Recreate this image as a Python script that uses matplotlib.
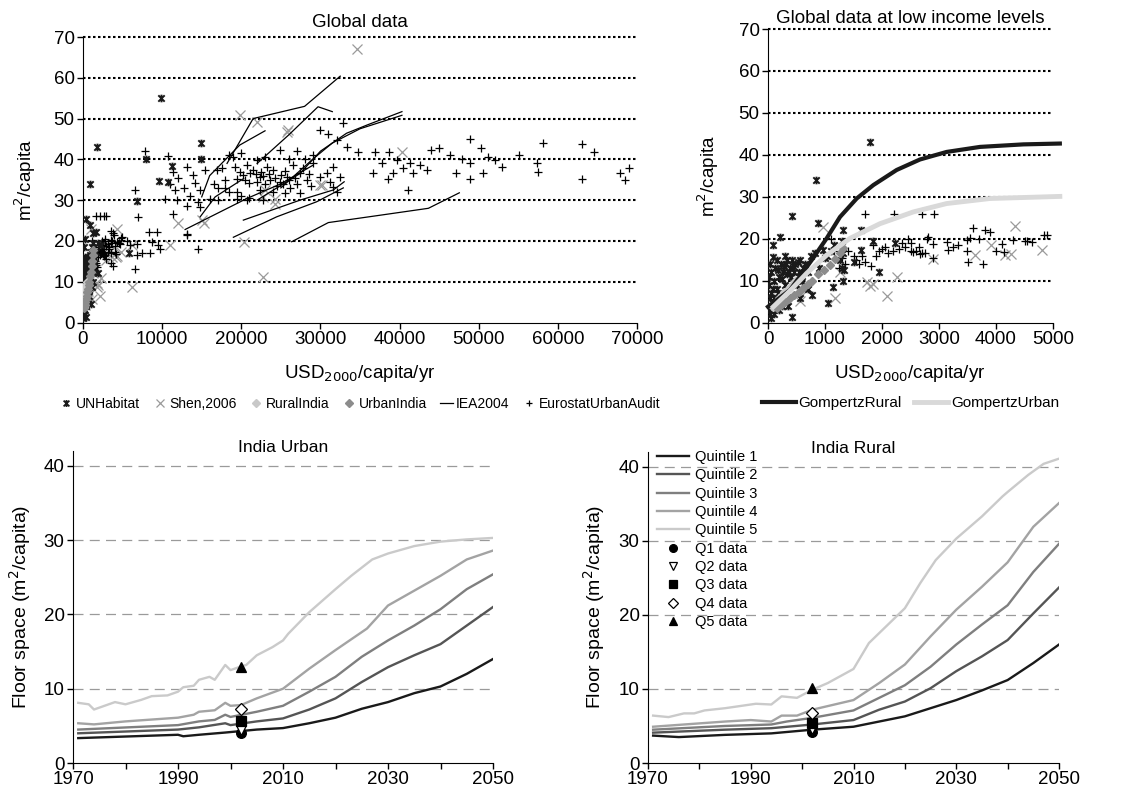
import matplotlib
matplotlib.use('Agg')
import matplotlib.pyplot as plt
from matplotlib.path import Path
from matplotlib.lines import Line2D
import numpy as np

plt.rcParams['font.family'] = ['Liberation Sans', 'DejaVu Sans']

# ---------------- data: global floor space vs income ----------------
unhabitat = [
    (842, 34), (1790, 43), (9860, 55), (7920, 40), (14900, 43.9), (14900, 40),
    (9640, 34.8), (10780, 34.5), (11280, 38.4), (6860, 29.8), (5810, 17),
    (415, 25.4), (210, 20.5), (94, 18.5), (94, 15.6), (883, 23.8), (1626, 22.2),
    (1310, 22), (415, 1.4), (53, 1.1), (1146, 8.6), (1058, 4.6), (766, 6.6),
    (561, 5.8), (1952, 12.1), (1310, 10), (970, 17.3), (1000, 15.4), (1160, 18.5),
    (2228, 18.9), (1848, 19.4), (1625, 17.3), (1263, 14.9), (1300, 13), (1040, 16),
    (1100, 17), (1290, 19.5), (1310, 16.5), (1330, 12.5), (1500, 14.5),
    (50, 12), (100, 10), (120, 13), (150, 8), (200, 11), (220, 14), (260, 12),
    (300, 9), (320, 14), (340, 15), (380, 13), (400, 11), (420, 15), (450, 12),
    (480, 14), (500, 9), (550, 12), (600, 10), (650, 14), (700, 8), (30, 6),
    (60, 4), (80, 8), (130, 5), (180, 7), (250, 6), (350, 4), (80, 3), (20, 9),
    (40, 14), (150, 15), (300, 16), (560, 15), (700, 12), (200, 3), (110, 2),
    (10, 11), (10, 3), (170, 12.5), (240, 10.5), (280, 13.5), (330, 11.5),
    (360, 12), (440, 13.5), (520, 14.5), (620, 13), (750, 16), (830, 16.5),
    (900, 13), (60, 7), (100, 6), (240, 4), (40, 2),
]

shen2006 = [
    (34580, 67), (19840, 50.9), (21950, 49.2), (25950, 47.2), (30160, 33.7),
    (24260, 29), (23000, 32.5), (40260, 41.9), (12050, 24.5), (15290, 24.5),
    (15000, 25.2), (10990, 19), (20380, 19.8), (22780, 11.2), (6150, 8.6),
    (6150, 19), (22790, 30.8), (24270, 30.4), (29960, 33.7), (25820, 46.8),
    (958, 22.9), (4330, 23), (4800, 17.3), (4160, 16.1), (3920, 18.5), (3630, 16.1),
    (2895, 15.3), (4260, 16.3), (1730, 9.8), (1790, 8.7), (1850, 9.2), (2093, 6.4),
    (2257, 11), (1175, 5.8), (1263, 12.1), (680, 7.7), (210, 4.2), (561, 5.2),
]

rural_india_x = [80, 120, 160, 200, 240, 280, 330, 380, 430, 480]
rural_india_y = [3.8, 4.5, 5.2, 5.8, 6.5, 7.2, 7.9, 8.6, 9.3, 10.0]
urban_india_x = [150, 220, 300, 380, 460, 540, 620, 700, 780, 880, 980, 1080, 1180, 1260, 1320]
urban_india_y = [3.5, 4.3, 5.0, 5.8, 6.6, 7.4, 8.3, 9.2, 10.0, 11.5, 12.5, 13.8, 15.2, 16.6, 17.7]

iea2004 = [
    [(15000, 30.8), (16000, 36), (19800, 43.5), (23000, 47)],
    [(18200, 39), (21500, 50), (28000, 53), (32500, 60.4)],
    [(22000, 39), (26000, 46), (29700, 52.9), (31500, 51.7)],
    [(22000, 30), (27400, 36.5), (30000, 42), (33300, 46.4), (36000, 48.5), (40300, 51.7)],
    [(25000, 33), (29000, 40), (31500, 44), (35000, 47.5), (40300, 50.8)],
    [(12900, 22.8), (20700, 30.4), (25000, 34), (29000, 38.5)],
    [(14800, 25.9), (16700, 30.8), (20300, 35.3)],
    [(20260, 25.1), (27420, 30), (31630, 32.5), (33000, 34.5)],
    [(19000, 20.9), (24460, 25.9), (29520, 29.6), (32890, 33)],
    [(26370, 19.8), (31000, 24.5), (37530, 26.3), (43640, 28), (47550, 31.8)],
]

eurostat = [
    (36900, 41.9), (38720, 41.9), (37750, 39), (36620, 36.7), (38590, 35.3), (39220, 36.7),
    (39640, 39.8), (40490, 37.8), (41330, 39), (41670, 36.7), (42600, 38.6), (43520, 37.5),
    (41120, 32.5), (43950, 42.4), (45040, 42.8), (46390, 41), (47150, 36.7), (47870, 40.2),
    (48920, 45.1), (48920, 39), (48920, 35.3), (50270, 42.9), (50600, 36.7), (51230, 40.5),
    (52080, 39.8), (52920, 38.2), (55150, 41), (57340, 39), (57550, 37), (58100, 43.9),
    (63030, 43.7), (64590, 41.7), (63030, 35.1), (67790, 36.7), (68930, 37.9), (68510, 34.9),
    (32900, 48.8), (29960, 47.2), (32070, 44.7), (33330, 43.1), (34800, 41.9), (31640, 38.2),
    (32490, 35.7), (31640, 33.3), (32070, 32), (27430, 31.8), (31000, 46.2), (29110, 41),
    (15420, 37.5), (16980, 37.4), (17100, 32.9), (17950, 32.9), (16050, 30.4), (17100, 30),
    (19000, 40.6), (19210, 38.2), (19420, 35.3), (19420, 30.4), (20690, 38.6), (20690, 30),
    (21110, 36.6), (21950, 39.8), (22370, 35.7), (22370, 32.5), (23220, 38.2), (23640, 34.9),
    (24900, 34.5), (25750, 35.7), (26590, 38.6), (27430, 36.6), (28270, 34.9), (29110, 39),
    (29960, 35.7), (30800, 36.6), (31220, 34.5), (24900, 42.3),
    (19800, 37), (20200, 36.2), (20500, 35), (21000, 34.2), (21500, 37.5), (21800, 36.5),
    (22000, 34.5), (22500, 37), (22800, 36), (23000, 34), (23500, 36.5), (24000, 37.5),
    (24200, 35.5), (24500, 33.5), (25000, 36.2), (25300, 34), (25500, 37.2), (26000, 35),
    (26200, 33), (26800, 35.5), (27000, 34), (27800, 37.8), (28500, 36.5), (28800, 33.5),
    (19500, 32), (20000, 31), (21000, 30.5), (18500, 41), (20000, 41.5), (23000, 40.5),
    (26000, 40), (27000, 42), (28000, 40.2), (17500, 38), (18000, 35), (22800, 30),
    (25500, 31.8), (24000, 32), (18500, 32), (16500, 34),
    (7840, 42.1), (10790, 40.8), (11330, 37), (13100, 38.2), (13940, 36.2), (14160, 34.1),
    (11630, 32.5), (11840, 30), (10360, 30.2), (13100, 28.5), (14790, 32.5), (11410, 26.6),
    (13100, 21.4), (9390, 22.3), (6570, 32.6), (7000, 25.9), (6570, 13), (9730, 17.9),
    (14570, 17.9), (8470, 17), (4890, 21), (6770, 16.5), (6770, 19.3), (12000, 35.5),
    (12700, 33), (13500, 31), (14500, 29.5), (8400, 22.3), (8680, 19.8), (13180, 21.7),
    (14790, 28.4), (11000, 34), (9500, 19), (7500, 17), (5500, 20), (6000, 19), (4500, 19.5),
    (1700, 26), (2210, 26), (2695, 26), (2912, 26), (3590, 22.5), (3806, 22), (3900, 21.5),
    (4100, 18.7), (4140, 16.9), (4300, 19.8), (4625, 19.2), (4840, 20.8), (3485, 19.6),
    (3515, 14.5), (3765, 13.9), (3495, 17.1), (3160, 17.3), (3250, 18), (3330, 18.6),
    (3134, 19.2), (2900, 18.8), (2783, 20), (2666, 16.4), (2100, 16.5), (2200, 17),
    (2300, 17.5), (2400, 18), (2500, 19), (2500, 17), (2550, 16.9), (2600, 17.2),
    (2650, 18), (2700, 16.5), (2750, 16.5), (2450, 20), (2350, 19), (1700, 14.5),
    (1800, 13.5), (1900, 16), (1950, 17), (1600, 14), (1550, 15), (1500, 16), (1400, 17),
    (1350, 14), (1300, 15.5), (1250, 13), (1150, 17), (1100, 20), (1650, 16), (2000, 17.5),
    (2050, 18), (1850, 18.5), (2800, 20.5), (2900, 15.5), (3700, 20), (3550, 20.2),
    (4000, 17.2), (4550, 19.5),
]

gompertz_rural_x = [0, 386, 766, 1029, 1263, 1556, 1848, 2257, 2666, 3134, 3720, 4480, 5120]
gompertz_rural_y = [3.8, 7.8, 14.9, 20.1, 25.2, 29.6, 32.8, 36.4, 38.9, 40.7, 41.9, 42.5, 42.7]
gompertz_urban_x = [94, 386, 680, 1029, 1438, 1965, 2549, 3134, 3895, 5120]
gompertz_urban_y = [3.8, 7.6, 11.8, 16.1, 20.1, 23.6, 26.4, 28.4, 29.6, 30.1]

# ---------------- data: India quintile projections ----------------
urban_years = {
    'q5': [1971, 1973, 1974, 1976, 1978, 1980, 1983, 1985, 1988, 1990, 1991, 1993, 1994,
           1996, 1997, 1999, 2000, 2002, 2003, 2005, 2008, 2010, 2011, 2015, 2020, 2023,
           2027, 2030, 2035, 2040, 2045, 2050],
    'q4': [1971, 1974, 1980, 1986, 1990, 1993, 1994, 1997, 1999, 2000, 2002, 2005, 2010,
           2015, 2020, 2026, 2030, 2035, 2040, 2045, 2050],
    'q3': [1971, 1990, 1994, 1997, 1999, 2000, 2005, 2010, 2015, 2020, 2025, 2030, 2035,
           2040, 2045, 2050],
    'q2': [1971, 1990, 1994, 1999, 2000, 2005, 2010, 2015, 2020, 2025, 2030, 2035, 2040,
           2045, 2050],
    'q1': [1971, 1990, 1991, 1994, 1999, 2005, 2010, 2015, 2020, 2025, 2030, 2035, 2040,
           2045, 2050],
}
urban_vals = {
    'q5': [8.1, 7.9, 7.2, 7.7, 8.2, 7.9, 8.5, 9.0, 9.1, 9.6, 10.2, 10.4, 11.2, 11.6, 11.2,
           13.2, 12.5, 13.0, 13.2, 14.5, 15.6, 16.5, 17.4, 20.3, 23.4, 25.2, 27.4, 28.2,
           29.2, 29.8, 30.1, 30.3],
    'q4': [5.35, 5.2, 5.6, 5.9, 6.1, 6.5, 6.9, 7.1, 8.1, 7.7, 7.8, 8.7, 10.0, 12.7, 15.2,
           18.1, 21.2, 23.2, 25.2, 27.4, 28.6],
    'q3': [4.5, 5.1, 5.6, 5.8, 6.5, 6.2, 6.9, 7.7, 9.6, 11.6, 14.3, 16.5, 18.5, 20.7, 23.4, 25.4],
    'q2': [4.0, 4.5, 4.8, 5.35, 5.1, 5.6, 6.0, 7.2, 8.7, 10.9, 12.9, 14.5, 16.0, 18.5, 21.0],
    'q1': [3.35, 3.8, 3.6, 3.8, 4.1, 4.5, 4.7, 5.35, 6.1, 7.3, 8.2, 9.4, 10.3, 12.0, 14.0],
}
rural_years = {
    'q5': [1971, 1974, 1977, 1979, 1981, 1985, 1990, 1991, 1994, 1996, 1999, 2002, 2005,
           2010, 2013, 2020, 2023, 2026, 2030, 2035, 2039, 2040, 2044, 2047, 2050],
    'q4': [1971, 1985, 1990, 1994, 1996, 1999, 2002, 2010, 2015, 2020, 2025, 2030, 2035,
           2040, 2045, 2050],
    'q3': [1971, 1985, 1994, 1997, 2002, 2010, 2015, 2020, 2025, 2030, 2035, 2040, 2045, 2050],
    'q2': [1971, 1985, 1994, 2002, 2010, 2015, 2020, 2025, 2030, 2035, 2040, 2045, 2050],
    'q1': [1971, 1976, 1985, 1994, 2002, 2010, 2015, 2020, 2025, 2030, 2035, 2040, 2045, 2050],
}
rural_vals = {
    'q5': [6.4, 6.2, 6.7, 6.7, 7.1, 7.4, 7.9, 8.0, 7.9, 9.0, 8.8, 9.9, 10.8, 12.7, 16.2,
           20.9, 24.3, 27.4, 30.3, 33.3, 36.0, 36.6, 38.9, 40.4, 41.1],
    'q4': [4.9, 5.6, 5.8, 5.6, 6.4, 6.4, 7.2, 8.5, 10.8, 13.3, 17.1, 20.7, 23.8, 27.1, 31.9, 35.1],
    'q3': [4.5, 5.0, 5.2, 5.6, 6.1, 7.1, 8.8, 10.5, 13.0, 16.0, 18.7, 21.3, 25.8, 29.6],
    'q2': [4.1, 4.5, 4.7, 5.2, 5.8, 7.2, 8.3, 10.1, 12.4, 14.4, 16.6, 20.2, 23.7],
    'q1': [3.7, 3.5, 3.8, 4.0, 4.5, 4.9, 5.6, 6.3, 7.4, 8.5, 9.8, 11.2, 13.5, 16.0],
}
survey_year = 2002
urban_survey = [4.1, 4.4, 5.6, 7.3, 12.9]   # Q1..Q5 data
rural_survey = [4.2, 4.6, 5.4, 6.7, 10.1]

quintile_keys = ['q1', 'q2', 'q3', 'q4', 'q5']
quintile_labels = ['Quintile 1', 'Quintile 2', 'Quintile 3', 'Quintile 4', 'Quintile 5']
quintile_colors = ['#1a1a1a', '#555555', '#7f7f7f', '#a3a3a3', '#cacaca']
survey_labels = ['Q1 data', 'Q2 data', 'Q3 data', 'Q4 data', 'Q5 data']
survey_markers = ['o', 'v', 's', 'D', '^']
survey_faces = ['black', 'white', 'black', 'white', 'black']

# ---------------- figure ----------------
W, H = 1126, 797
fig = plt.figure(figsize=(W / 100, H / 100), dpi=100)


def axes_px(l, t, r, b):
    return fig.add_axes([l / W, 1 - b / H, (r - l) / W, (b - t) / H])


star = Path([(-1, -1), (1, 1), (-1, 1), (1, -1), (0, -1.2), (0, 1.2)],
            [Path.MOVETO, Path.LINETO, Path.MOVETO, Path.LINETO, Path.MOVETO, Path.LINETO])


def style_top(ax, xmax, xstep):
    ax.set_xlim(0, xmax)
    ax.set_ylim(0, 70)
    ax.set_xticks(np.arange(0, xmax + 1, xstep))
    ax.set_yticks(np.arange(0, 71, 10))
    for v in range(10, 71, 10):
        ax.axhline(v, color='black', lw=1.5, ls=(0, (1.2, 1.2)), zorder=0, clip_on=False)
    for s in ['top', 'right']:
        ax.spines[s].set_visible(False)
    ax.tick_params(direction='out', length=4, width=1, labelsize=13.5, pad=2)


def draw_scatter(ax):
    ux, uy = np.array(unhabitat).T
    sx, sy = np.array(shen2006).T
    ex, ey = np.array(eurostat).T
    ax.plot(sx, sy, ls='none', marker='x', ms=7, mew=0.9, color='#9a9a9a', zorder=2)
    for seg in iea2004:
        lx, ly = np.array(seg).T
        ax.plot(lx, ly, color='black', lw=0.9, zorder=3)
    ax.plot(ex, ey, ls='none', marker='+', ms=5.5, mew=0.9, color='black', zorder=3)
    ax.plot(ux, uy, ls='none', marker=star, ms=5.5, mew=1.4, color='#1a1a1a', zorder=3)
    ax.plot(rural_india_x, rural_india_y, ls='none', marker='D', ms=4.5, color='#c8c8c8',
            mec='#c8c8c8', zorder=4)
    ax.plot(urban_india_x, urban_india_y, ls='none', marker='D', ms=4.5, color='#8c8c8c',
            mec='#8c8c8c', zorder=4)


# top-left: global data
ax1 = axes_px(83, 37, 637, 322.5)
style_top(ax1, 70000, 10000)
draw_scatter(ax1)
ax1.set_title('Global data', fontsize=13.5, pad=7)

legend_handles = [
    Line2D([], [], ls='none', marker=star, ms=5, mew=1.3, color='#1a1a1a'),
    Line2D([], [], ls='none', marker='x', ms=6, mew=0.9, color='#9a9a9a'),
    Line2D([], [], ls='none', marker='D', ms=4.5, color='#c8c8c8'),
    Line2D([], [], ls='none', marker='D', ms=4.5, color='#8c8c8c'),
    Line2D([], [], color='black', lw=0.9),
    Line2D([], [], ls='none', marker='+', ms=5, mew=0.9, color='black'),
]
legend_names = ['UNHabitat', 'Shen,2006', 'RuralIndia', 'UrbanIndia', 'IEA2004', 'EurostatUrbanAudit']
ax1.legend(legend_handles, legend_names, loc='center', bbox_to_anchor=(0.5, -0.285), ncol=6,
           frameon=False, fontsize=10, handlelength=1.0, handletextpad=0.2, columnspacing=0.9)

# top-right: low income
ax2 = axes_px(768, 29, 1053, 322.7)
style_top(ax2, 5000, 1000)
draw_scatter(ax2)
ax2.plot(gompertz_rural_x, gompertz_rural_y, color='#1a1a1a', lw=3, zorder=5, clip_on=False)
ax2.plot(gompertz_urban_x, gompertz_urban_y, color='#d9d9d9', lw=3.5, zorder=5, clip_on=False)
ax2.set_title('Global data at low income levels', fontsize=13.5, pad=4)
ax2.legend([Line2D([], [], color='#1a1a1a', lw=3), Line2D([], [], color='#d9d9d9', lw=3.5)],
           ['GompertzRural', 'GompertzUrban'], loc='center', bbox_to_anchor=(0.5, -0.275),
           ncol=2, frameon=False, fontsize=11, handlelength=2.2, handletextpad=0.2,
           columnspacing=0.8)

fig.text(360 / W, 1 - 374 / H, 'USD$_{2000}$/capita/yr', ha='center', va='center', fontsize=13.5)
fig.text(910 / W, 1 - 374 / H, 'USD$_{2000}$/capita/yr', ha='center', va='center', fontsize=13.5)
fig.text(25 / W, 1 - 180 / H, 'm$^2$/capita', rotation=90, ha='center', va='center', fontsize=13.5)
fig.text(708 / W, 1 - 176 / H, 'm$^2$/capita', rotation=90, ha='center', va='center', fontsize=13.5)


# bottom: India quintiles
def draw_india(ax, years, vals, survey, title):
    ax.set_xlim(1970, 2050)
    ax.set_ylim(0, 42)
    for v in range(10, 41, 10):
        ax.axhline(v, color='#9a9a9a', lw=0.9, ls=(0, (8, 5)), zorder=0)
    for k, lab, col in zip(quintile_keys, quintile_labels, quintile_colors):
        ax.plot(years[k], vals[k], color=col, lw=1.7, label=lab, zorder=2)
    for val, lab, mk, fc in zip(survey, survey_labels, survey_markers, survey_faces):
        ax.plot([survey_year], [val], ls='none', marker=mk, ms=7 if mk != 'D' else 6,
                mfc=fc, mec='black', mew=0.9, label=lab, zorder=4)
    ax.set_xticks([1970, 1990, 2010, 2030, 2050])
    ax.set_xticks([1980, 2000, 2020, 2040], minor=True)
    ax.set_yticks([0, 10, 20, 30, 40])
    ax.tick_params(which='both', direction='out', length=4, width=1, labelsize=13.5, pad=2)
    for s in ['top', 'right']:
        ax.spines[s].set_visible(False)
    ax.text(0.5, 1.01, title, transform=ax.transAxes, ha='center', va='center', fontsize=12.5)


ax3 = axes_px(73, 451, 493, 763)
draw_india(ax3, urban_years, urban_vals, urban_survey, 'India Urban')
ax4 = axes_px(648, 452, 1059, 763)
draw_india(ax4, rural_years, rural_vals, rural_survey, 'India Rural')
ax4.legend(loc='upper left', bbox_to_anchor=(0.0, 1.035), frameon=False, fontsize=10.5,
           handlelength=2.2, handletextpad=0.4, labelspacing=0.3, borderaxespad=0.2,
           markerscale=0.8)

fig.text(20 / W, 1 - 607 / H, 'Floor space (m$^2$/capita)', rotation=90, ha='center',
         va='center', fontsize=14)
fig.text(594 / W, 1 - 607 / H, 'Floor space (m$^2$/capita)', rotation=90, ha='center',
         va='center', fontsize=14)

fig.savefig('out.png', dpi=100)
